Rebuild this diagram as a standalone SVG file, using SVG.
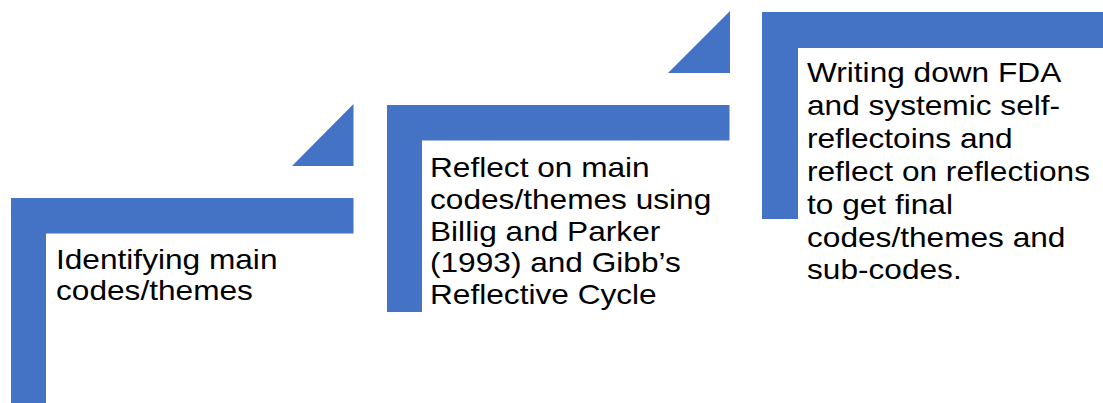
<svg xmlns="http://www.w3.org/2000/svg" width="1103" height="403" viewBox="0 0 1103 403">
<style>
.shape{fill:#4472C4;}
.lbl{font-family:"Liberation Sans",Arial,sans-serif;font-size:28px;fill:#000000;}
</style>
<rect width="1103" height="403" fill="#ffffff"/>
<g id="step1">
<path class="shape" d="M11,198 H353.5 V233.5 H46 V405 H11 Z"/>
<text class="lbl" transform="matrix(1.13 0 0 1 56 0)"><tspan x="0" y="269.5">Identifying main</tspan><tspan x="0" y="300.5">codes/themes</tspan></text>
</g>
<g id="step2">
<path class="shape" d="M387,105 H729.5 V140.5 H422 V312 H387 Z"/>
<text class="lbl" transform="matrix(1.13 0 0 1 430 0)"><tspan x="0" y="177">Reflect on main</tspan><tspan x="0" y="209">codes/themes using</tspan><tspan x="0" y="241">Billig and Parker</tspan><tspan x="0" y="272.5">(1993) and Gibb’s</tspan><tspan x="0" y="304.5">Reflective Cycle</tspan></text>
</g>
<g id="step3">
<path class="shape" d="M762,12 H1104 V48 H798 V219 H762 Z"/>
<text class="lbl" transform="matrix(1.13 0 0 1 807 0)"><tspan x="0" y="82.5">Writing down FDA</tspan><tspan x="0" y="115.3">and systemic self-</tspan><tspan x="0" y="148.1">reflectoins and</tspan><tspan x="0" y="181">reflect on reflections</tspan><tspan x="0" y="213.8">to get final</tspan><tspan x="0" y="246.6">codes/themes and</tspan><tspan x="0" y="279.4">sub-codes.</tspan></text>
</g>
<g id="connectors">
<path class="shape" d="M292,166 L353.5,104 V166 Z"/>
<path class="shape" d="M668,73 L730,11 V73 Z"/>
</g>
</svg>
